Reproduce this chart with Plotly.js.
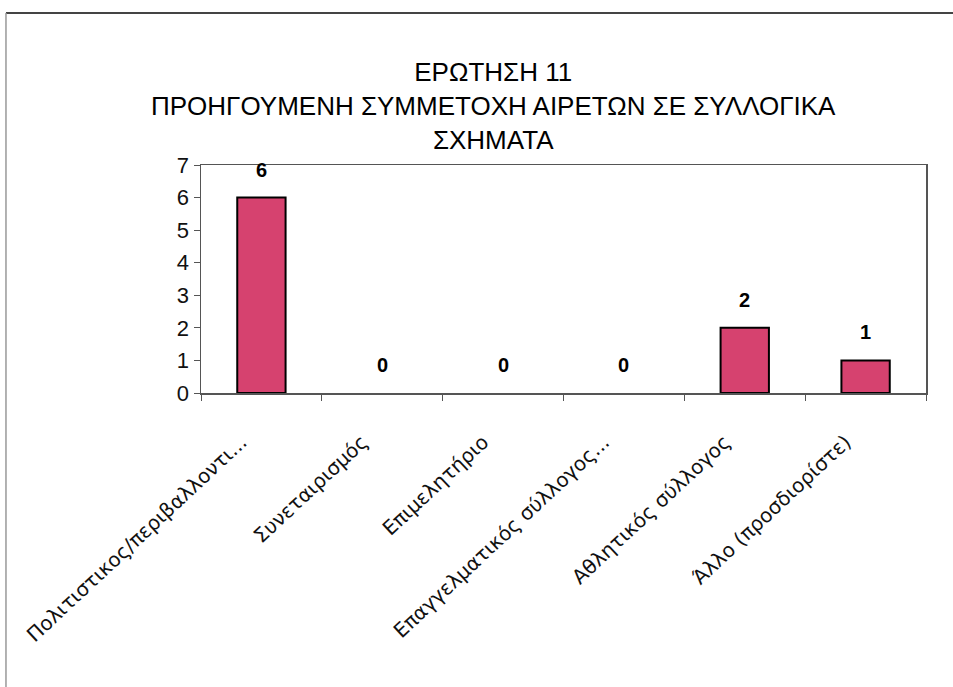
<!DOCTYPE html>
<html>
<head>
<meta charset="utf-8">
<script src="https://cdn.plot.ly/plotly-3.0.1.min.js"></script>
<style>html,body{margin:0;padding:0;background:#fff;}#chart{width:953px;height:687px;}</style>
</head>
<body>
<div id="chart"></div>
<script>
const categories = [
  "Πολιτιστικος/περιβαλλοντι...",
  "Συνεταιρισμός",
  "Επιμελητήριο",
  "Επαγγελματικός σύλλογος...",
  "Αθλητικός σύλλογος",
  "Άλλο (προσδιορίστε)"
];
const values = [6, 0, 0, 0, 2, 1];
const yTicks = [0, 1, 2, 3, 4, 5, 6, 7];
const titleLines = ["ΕΡΩΤΗΣΗ 11", "ΠΡΟΗΓΟΥΜΕΝΗ ΣΥΜΜΕΤΟΧΗ ΑΙΡΕΤΩΝ ΣΕ ΣΥΛΛΟΓΙΚΑ", "ΣΧΗΜΑΤΑ"];

const trace = {
  type: "bar",
  x: categories,
  y: values,
  width: 0.4,
  marker: {color: "#d6426f", line: {color: "#000", width: values.map(v => v > 0 ? 2 : 0)}},
  hoverinfo: "none"
};

const annotations = categories.map((c, i) => ({
  x: c, y: values[i], xref: "x", yref: "y",
  text: "<b>" + values[i] + "</b>",
  showarrow: false, yanchor: "middle", yshift: 28,
  font: {family: "Liberation Sans, Arial, sans-serif", size: 20, color: "#000"}
}));

annotations.push({
  xref: "paper", yref: "paper", x: 0.403, y: 1, yanchor: "bottom", yshift: 8,
  text: titleLines.join("<br>"), showarrow: false, align: "center",
  font: {family: "Liberation Sans, Arial, sans-serif", size: 26, color: "#000"}
});

const layout = {
  width: 953, height: 687,
  margin: {l: 201, r: 27, t: 165, b: 294},
  paper_bgcolor: "#fff", plot_bgcolor: "#fff",
  showlegend: false,
  xaxis: {
    type: "category",
    tickangle: -43,
    tickson: "boundaries",
    ticks: "outside", ticklen: 6, tickcolor: "#555",
    showline: true, linecolor: "#555", linewidth: 1.5, mirror: true,
    ticklabelstandoff: 28,
    ticklabelshift: -20,
    tickfont: {family: "DejaVu Sans, Verdana, sans-serif", size: 20, color: "#111"},
    showgrid: false
  },
  yaxis: {
    range: [0, 7],
    tickvals: yTicks,
    ticks: "outside", ticklen: 6, tickcolor: "#555",
    showline: true, linecolor: "#555", linewidth: 1.5, mirror: true,
    showgrid: false, zeroline: false,
    tickfont: {family: "Liberation Sans, Arial, sans-serif", size: 22, color: "#111"}
  },
  annotations: annotations,
  shapes: [
    {type: "line", xref: "paper", yref: "paper", x0: -0.269, x1: 1.04, y0: 1.667, y1: 1.667, line: {color: "#444", width: 2}},
    {type: "line", xref: "paper", yref: "paper", x0: -0.269, x1: -0.269, y0: 1.667, y1: -1.3, line: {color: "#999", width: 1.5}}
  ]
};

Plotly.newPlot("chart", [trace], layout, {staticPlot: true});
</script>
</body>
</html>
